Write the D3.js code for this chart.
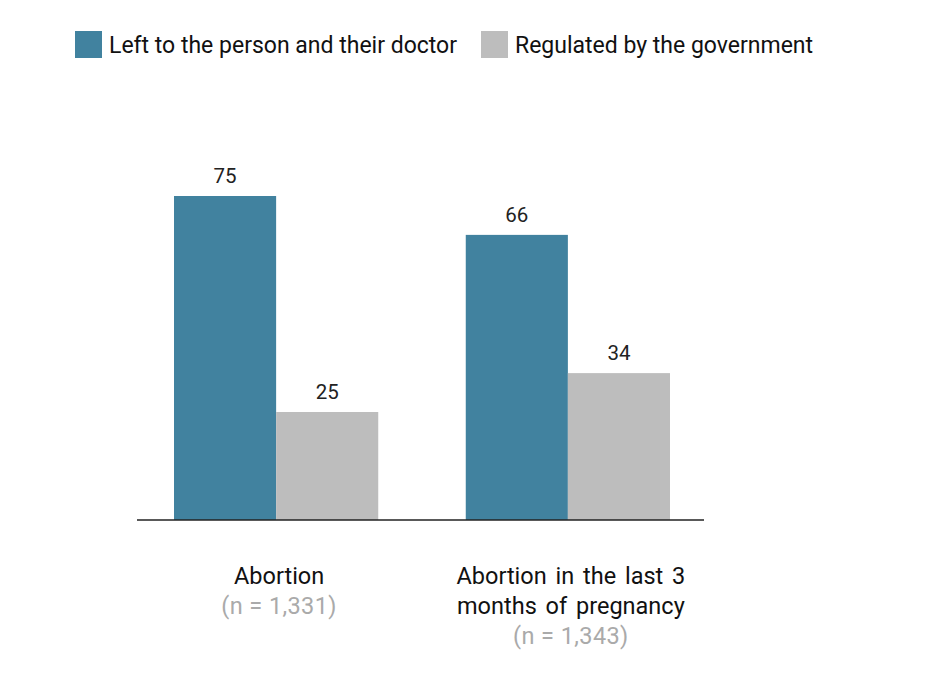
<!DOCTYPE html>
<html>
<head>
<meta charset="utf-8">
<script src="https://d3js.org/d3.v7.min.js"></script>
<style>
  body { margin: 0; background: #fff; }
  svg { font-family: Roboto, "Noto Sans", sans-serif; }
</style>
</head>
<body>
<svg id="chart"></svg>
<script>
// data
const categories = ["Abortion", "Abortion in the last 3 months of pregnancy"];
const labelLines = [["Abortion"], ["Abortion in the last 3", "months of pregnancy"]];
const sampleSizes = ["(n = 1,331)", "(n = 1,343)"];
const seriesNames = ["Left to the person and their doctor", "Regulated by the government"];
const leftToDoctor = [75, 66];
const regulatedByGov = [25, 34];

const colors = ["#41829f", "#bdbdbd"];

const width = 930, height = 690;
const svg = d3.select("#chart").attr("width", width).attr("height", height);

const baseline = 520;
const x = d3.scaleBand().domain(categories).range([139, 705])
    .paddingInner(0.3).paddingOuter(0.12);
const xSub = d3.scaleBand().domain(seriesNames).range([0, x.bandwidth()]);
const y = d3.scaleLinear().domain([0, 100]).range([baseline, 88]);

const rows = categories.map((c, i) => ({
    cat: c,
    values: [leftToDoctor[i], regulatedByGov[i]]
}));

// bars
const groups = svg.selectAll(".group").data(rows).enter()
    .append("g")
    .attr("class", "group")
    .attr("transform", d => "translate(" + x(d.cat) + ",0)");

groups.selectAll("rect")
    .data(d => d.values.map((v, j) => ({ key: seriesNames[j], v: v, j: j })))
    .enter().append("rect")
    .attr("x", d => xSub(d.key))
    .attr("y", d => y(d.v))
    .attr("width", xSub.bandwidth())
    .attr("height", d => baseline - y(d.v))
    .style("fill", d => colors[d.j]);

groups.selectAll(".val")
    .data(d => d.values.map((v, j) => ({ key: seriesNames[j], v: v })))
    .enter().append("text")
    .attr("class", "val")
    .attr("x", d => xSub(d.key) + xSub.bandwidth() / 2)
    .attr("y", d => y(d.v) - 13)
    .attr("text-anchor", "middle")
    .style("font-size", "20.5px")
    .style("fill", "#222")
    .text(d => d.v);

// baseline
svg.append("line")
    .attr("x1", 137).attr("x2", 704)
    .attr("y1", baseline).attr("y2", baseline)
    .style("stroke", "#222").style("stroke-width", 1.5);

// category labels
groups.each(function (d, i) {
    const g = d3.select(this);
    const cx = x.bandwidth() / 2 + 3;
    const lines = labelLines[i];
    lines.forEach((t, k) => {
        g.append("text")
            .attr("x", cx)
            .attr("y", 584 + k * 30)
            .attr("text-anchor", "middle")
            .style("font-size", "23.5px")
            .style("word-spacing", "3px")
            .style("fill", "#111")
            .text(t);
    });
    g.append("text")
        .attr("x", cx)
        .attr("y", 584 + lines.length * 30)
        .attr("text-anchor", "middle")
        .style("font-size", "23.5px")
        .style("letter-spacing", "0.4px")
        .style("fill", "#aaa")
        .text(sampleSizes[i]);
});

// legend
const legendX = [75, 481];
const legend = svg.selectAll(".legend").data(seriesNames).enter()
    .append("g")
    .attr("class", "legend")
    .attr("transform", (d, i) => "translate(" + legendX[i] + ",31)");

legend.append("rect")
    .attr("width", 27).attr("height", 27)
    .style("fill", (d, i) => colors[i]);

legend.append("text")
    .attr("x", 34)
    .attr("y", 22)
    .style("font-size", "23px")
    .style("fill", "#111")
    .text(d => d);
</script>
</body>
</html>
